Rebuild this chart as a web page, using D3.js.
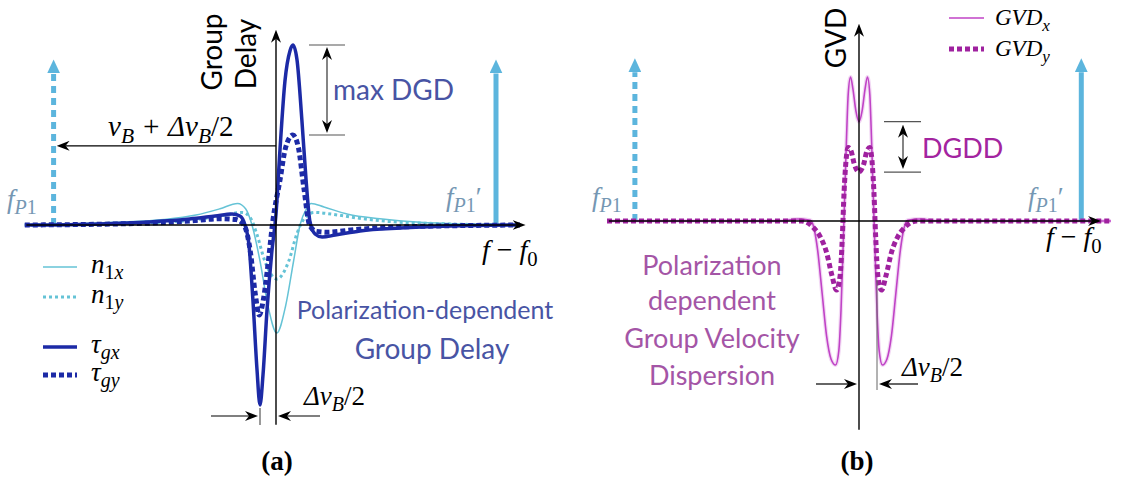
<!DOCTYPE html>
<html>
<head>
<meta charset="utf-8">
<script src="https://cdn.jsdelivr.net/npm/d3@7/dist/d3.min.js"></script>
<style>
  body { margin: 0; background: #fff; }
  svg { display: block; }
</style>
</head>
<body>
<div id="canvas"></div>
<script>
/* Data: x = f - f0 in units of Δν_B/2, y = normalised amplitude */
const N1X = [[-15.7, 0], [-10, 0.015], [-7, 0.03], [-5, 0.055], [-3.5, 0.09], [-2.4, 0.12], [-1.9, 0.09], [-1.5, 0], [-1.0, -0.2], [-0.5, -0.45], [0.05, -0.6], [0.6, -0.45], [1.1, -0.2], [1.5, 0], [1.9, 0.09], [2.2, 0.12], [3.0, 0.1], [4.5, 0.06], [6.5, 0.035], [9, 0.015], [12, 0.005], [15.25, 0]]
const N1Y = [[-15.7, 0], [-8, 0.012], [-5, 0.03], [-3.2, 0.055], [-2.1, 0.07], [-1.6, 0.04], [-1.2, -0.05], [-0.7, -0.2], [0.05, -0.3], [0.8, -0.2], [1.3, -0.05], [1.8, 0.04], [2.4, 0.07], [3.5, 0.06], [5, 0.04], [7, 0.02], [10, 0.008], [15.25, 0]]
const TAU_GX = [[-15.7, 0], [-11, 0.006], [-7.9, 0.017], [-5.4, 0.033], [-3.8, 0.05], [-2.75, 0.061], [-2.25, 0.05], [-1.94, 0], [-1.69, -0.11], [-1.44, -0.42], [-1.19, -0.8], [-1.0, -1.0], [-0.81, -0.83], [-0.56, -0.47], [-0.25, -0.14], [0, 0.06], [0.25, 0.42], [0.56, 0.8], [0.88, 0.97], [1.06, 1.0], [1.31, 0.92], [1.62, 0.58], [1.88, 0.25], [2.12, 0.02], [2.44, -0.05], [2.88, -0.067], [3.7, -0.056], [5.25, -0.033], [7.75, -0.017], [10.9, -0.006], [15.25, 0]]
const TAU_GY = [[-15.7, 0], [-8, 0.01], [-5, 0.025], [-3.5, 0.035], [-2.5, 0.03], [-2.0, 0], [-1.6, -0.15], [-1.3, -0.38], [-1.05, -0.5], [-0.8, -0.42], [-0.5, -0.22], [-0.2, 0.02], [0.25, 0.25], [0.6, 0.43], [1.05, 0.5], [1.4, 0.43], [1.75, 0.2], [2.1, 0], [2.5, -0.035], [3.2, -0.04], [5, -0.025], [8, -0.01], [15.25, 0]]
const GVD_X = [[-14, 0], [-4.4, 0], [-3.4, 0.014], [-2.7, 0.005], [-2.5, -0.05], [-2.3, -0.2], [-2.05, -0.5], [-1.8, -0.8], [-1.55, -0.96], [-1.3, -1.0], [-1.12, -0.9], [-1.0, -0.62], [-0.9, -0.25], [-0.8, 0.15], [-0.7, 0.55], [-0.6, 0.88], [-0.47, 1.0], [-0.34, 0.92], [-0.18, 0.77], [0, 0.69], [0.18, 0.77], [0.34, 0.92], [0.47, 1.0], [0.6, 0.88], [0.7, 0.55], [0.8, 0.15], [0.9, -0.25], [1.0, -0.62], [1.12, -0.9], [1.3, -1.0], [1.55, -0.96], [1.8, -0.8], [2.05, -0.5], [2.3, -0.2], [2.5, -0.05], [2.7, 0.005], [3.4, 0.014], [4.4, 0], [14, 0]]
const GVD_Y = [[-14, 0], [-3.2, 0], [-2.5, -0.05], [-2.15, -0.11], [-1.8, -0.22], [-1.5, -0.38], [-1.25, -0.48], [-1.05, -0.38], [-0.93, -0.12], [-0.83, 0.2], [-0.72, 0.42], [-0.6, 0.51], [-0.45, 0.49], [-0.25, 0.39], [0, 0.34], [0.25, 0.39], [0.45, 0.49], [0.6, 0.51], [0.72, 0.42], [0.83, 0.2], [0.93, -0.12], [1.05, -0.38], [1.25, -0.48], [1.5, -0.38], [1.8, -0.22], [2.15, -0.11], [2.5, -0.05], [3.2, 0], [14, 0]]
/* pump positions (same units) and heights */
const PUMP_A = [-13.9, 13.75]
const PUMP_B = [-12.45, 12.35]
const PUMP_H_A = 0.92
const PUMP_H_B = 1.13
const HALF_BW = 1   // Δν_B/2 marker position
const NU_LEVEL = 0.44 // height of the ν_B + Δν_B/2 arrow
const LEGEND_A = ["n1x", "n1y", "tgx", "tgy"]
const LEGEND_B = ["gx", "gy"]

/* Layout and style constants */
const WIDTH = 1134
const HEIGHT = 480
const SANS = "Lato, 'Open Sans', sans-serif"
const MATH = "'Liberation Serif', 'DejaVu Serif', serif"
const COLORS = {"NAVY": "#1c2aa6", "LIGHT": "#65c3d6", "PUMP": "#5cb5dd", "FP": "#7597b3",
                "TEXT_A": "#4854a4", "TEXT_B": "#a455a6", "DGDD": "#a3249f", "GX": "#c043c6", "GY": "#9f219f"}

const svg = d3.select("#canvas").append("svg").attr("width", WIDTH).attr("height", HEIGHT)
const defs = svg.append("defs")

/* arrowheads: returns how far the line must stop before the tip */
const makeHead = (id, w, h, notch, color) => {
  defs.append("marker").attr("id", id)
      .attr("viewBox", `0 0 ${w} ${h}`).attr("refX", notch).attr("refY", h / 2)
      .attr("markerWidth", w).attr("markerHeight", h)
      .attr("markerUnits", "userSpaceOnUse").attr("orient", "auto-start-reverse")
      .append("path").attr("d", `M0,0 L${w},${h / 2} L0,${h} L${notch},${h / 2} Z`).attr("fill", color)
  return w - notch
}
const BACK_K = makeHead("headK", 13, 10, 4, "#000")
const BACK_B = makeHead("headB", 14, 13, 0, COLORS.PUMP)

const arrow = (g, x1, y1, x2, y2, both) => {
  const len = Math.hypot(x2 - x1, y2 - y1), ux = (x2 - x1) / len, uy = (y2 - y1) / len
  const s = both ? BACK_K : 0
  const l = g.append("line")
             .attr("x1", x1 + ux * s).attr("y1", y1 + uy * s)
             .attr("x2", x2 - ux * BACK_K).attr("y2", y2 - uy * BACK_K)
             .attr("stroke", "#333").attr("stroke-width", 1.2)
             .attr("marker-end", "url(#headK)")
  if (both) l.attr("marker-start", "url(#headK)")
  return l
}

/* text with italic / roman pieces and subscripts: kind = i, r, si, sr */
const math = (g, x, y, parts, size, color, anchor) => {
  const t = g.append("text").attr("x", x).attr("y", y)
             .attr("font-family", MATH).attr("font-size", size).attr("fill", color)
             .attr("text-anchor", anchor || "start")
  let shift = 0
  parts.forEach(([s, kind]) => {
    const sub = kind[0] === "s"
    const target = sub ? size * 0.24 : 0
    t.append("tspan").attr("dy", target - shift)
     .attr("font-size", sub ? size * 0.74 : size)
     .attr("font-style", kind.endsWith("i") ? "italic" : "normal")
     .text(s)
    shift = target
  })
  return t
}
const label = (g, x, y, txt, size, color, anchor) =>
  g.append("text").attr("x", x).attr("y", y).attr("font-family", SANS)
   .attr("font-size", size).attr("fill", color).attr("text-anchor", anchor || "start").text(txt)

const pumpArrow = (g, x, y0, y1, dashed) => {
  g.append("line").attr("x1", x).attr("x2", x).attr("y1", y0).attr("y2", y1 + BACK_B)
   .attr("stroke", COLORS.PUMP).attr("stroke-width", 5)
   .attr("stroke-dasharray", dashed ? "7,5" : null)
   .attr("marker-end", "url(#headB)")
}

/* ---------------- Panel (a) ---------------- */
const xA = d3.scaleLinear().domain([-16, 16]).range([20, 532])
const yA = d3.scaleLinear().domain([-1, 1]).range([405, 45])
const lineA = d3.line().x((d) => xA(d[0])).y((d) => yA(d[1])).curve(d3.curveMonotoneX)
const gA = svg.append("g")

pumpArrow(gA, xA(PUMP_A[0]), yA(0), yA(PUMP_H_A), true)
pumpArrow(gA, xA(PUMP_A[1]), yA(0), yA(PUMP_H_A), false)

const STYLE_A = {
  "n1x": {"data": N1X, "color": COLORS.LIGHT, "width": 1.5, "dash": null},
  "n1y": {"data": N1Y, "color": COLORS.LIGHT, "width": 3, "dash": "3,3"},
  "tgx": {"data": TAU_GX, "color": COLORS.NAVY, "width": 3.5, "dash": null},
  "tgy": {"data": TAU_GY, "color": COLORS.NAVY, "width": 5, "dash": "5,3"}
}
LEGEND_A.forEach((k) => {
  gA.append("path").attr("d", lineA(STYLE_A[k].data)).attr("fill", "none")
    .attr("stroke", STYLE_A[k].color).attr("stroke-width", STYLE_A[k].width)
    .attr("stroke-dasharray", STYLE_A[k].dash)
})

// axes
arrow(gA, xA(-15.6), yA(0), xA(15.6), yA(0)).attr("stroke", "#000").attr("stroke-width", 1.4)
arrow(gA, xA(0), yA(-1.11), xA(0), yA(1.085)).attr("stroke", "#000").attr("stroke-width", 1.4)

// group delay label
gA.append("text").attr("transform", "translate(222,52) rotate(-90)").attr("text-anchor", "middle")
  .attr("font-family", SANS).attr("font-size", 28).text("Group")
gA.append("text").attr("transform", "translate(256,54) rotate(-90)").attr("text-anchor", "middle")
  .attr("font-family", SANS).attr("font-size", 28).text("Delay")

// max DGD bracket
const maxGx = d3.max(TAU_GX, (d) => d[1]), maxGy = d3.max(TAU_GY, (d) => d[1])
;[maxGx, maxGy].forEach((v) => gA.append("line").attr("x1", 309).attr("x2", 345)
  .attr("y1", yA(v)).attr("y2", yA(v)).attr("stroke", "#555").attr("stroke-width", 1.2))
arrow(gA, 327, yA(maxGx) + 2, 327, yA(maxGy) - 2, true)
label(gA, 333, 100, "max DGD", 28, COLORS.TEXT_A)

// ν_B + Δν_B/2 arrow
arrow(gA, xA(0), yA(NU_LEVEL), xA(PUMP_A[0]) + 3, yA(NU_LEVEL)).attr("stroke", "#000")
math(gA, 108, 136, [["ν", "i"], ["B", "si"], [" + Δν", "i"], ["B", "si"], ["/2", "r"]], 29, "#000")

// pump labels and axis name
math(gA, 7, 208, [["f", "i"], ["P", "si"], ["1", "sr"]], 27, COLORS.FP)
math(gA, 446, 206, [["f", "i"], ["P", "si"], ["1", "sr"], ["′", "r"]], 27, COLORS.FP)
math(gA, 482, 259, [["f", "i"], [" − ", "r"], ["f", "i"], ["0", "sr"]], 28, "#000")

// legend
const LEGEND_TEXT_A = {"n1x": [["n", "i"], ["1", "sr"], ["x", "si"]], "n1y": [["n", "i"], ["1", "sr"], ["y", "si"]],
                       "tgx": [["τ", "i"], ["gx", "si"]], "tgy": [["τ", "i"], ["gy", "si"]]}
const LEGEND_Y_A = [267, 297, 347, 375]
LEGEND_A.forEach((k, i) => {
  gA.append("line").attr("x1", 43).attr("x2", 77).attr("y1", LEGEND_Y_A[i]).attr("y2", LEGEND_Y_A[i])
    .attr("stroke", STYLE_A[k].color).attr("stroke-width", STYLE_A[k].width).attr("stroke-dasharray", STYLE_A[k].dash)
  math(gA, 91, LEGEND_Y_A[i] + 6, LEGEND_TEXT_A[k], 27, "#000")
})

label(gA, 425, 319, "Polarization-dependent", 25, COLORS.TEXT_A, "middle")
label(gA, 432, 359, "Group Delay", 28, COLORS.TEXT_A, "middle")

// Δν_B/2 marker
gA.append("line").attr("x1", xA(-HALF_BW)).attr("x2", xA(-HALF_BW)).attr("y1", yA(-1) + 3).attr("y2", 425)
  .attr("stroke", "#555").attr("stroke-width", 1.2)
arrow(gA, 211, 416, xA(-HALF_BW) - 2, 416).attr("stroke", "#000")
arrow(gA, 320, 416, xA(0) + 2, 416).attr("stroke", "#000")
math(gA, 304, 405, [["Δν", "i"], ["B", "si"], ["/2", "r"]], 27, "#000")

gA.append("text").attr("x", 277).attr("y", 470).attr("text-anchor", "middle")
  .attr("font-family", MATH).attr("font-weight", "bold").attr("font-size", 27).text("(a)")

/* ---------------- Panel (b) ---------------- */
const xB = d3.scaleLinear().domain([-14, 14]).range([607, 1111])
const yB = d3.scaleLinear().domain([-1, 1]).range([365, 77])
const lineB = d3.line().x((d) => xB(d[0])).y((d) => yB(d[1])).curve(d3.curveMonotoneX)
const gB = svg.append("g")

pumpArrow(gB, xB(PUMP_B[0]), yB(0), yB(PUMP_H_B), true)
pumpArrow(gB, xB(PUMP_B[1]), yB(0), yB(PUMP_H_B), false)

const STYLE_B = {
  "gx": {"data": GVD_X, "color": COLORS.GX, "width": 1.6, "dash": null},
  "gy": {"data": GVD_Y, "color": COLORS.GY, "width": 5, "dash": "5,3"}
}
gB.append("path").attr("d", lineB(GVD_X)).attr("fill", "none")
  .attr("stroke", COLORS.GX).attr("stroke-width", 4).attr("stroke-opacity", 0.2)
LEGEND_B.forEach((k) => {
  gB.append("path").attr("d", lineB(STYLE_B[k].data)).attr("fill", "none")
    .attr("stroke", STYLE_B[k].color).attr("stroke-width", STYLE_B[k].width)
    .attr("stroke-dasharray", STYLE_B[k].dash)
})

arrow(gB, xB(-13.9), yB(0), xB(13.45), yB(0)).attr("stroke", "#000").attr("stroke-width", 1.4)
arrow(gB, xB(0), yB(-1.45), xB(0), yB(1.37)).attr("stroke", "#000").attr("stroke-width", 1.4)

gB.append("text").attr("transform", "translate(846,38) rotate(-90)").attr("text-anchor", "middle")
  .attr("font-family", SANS).attr("font-size", 28).text("GVD")

// legend
const LEGEND_TEXT_B = {"gx": [["GVD", "i"], ["x", "si"]], "gy": [["GVD", "i"], ["y", "si"]]}
const LEGEND_Y_B = [18, 49]
LEGEND_B.forEach((k, i) => {
  gB.append("line").attr("x1", 949).attr("x2", 984).attr("y1", LEGEND_Y_B[i]).attr("y2", LEGEND_Y_B[i])
    .attr("stroke", STYLE_B[k].color).attr("stroke-width", STYLE_B[k].width).attr("stroke-dasharray", STYLE_B[k].dash)
  math(gB, 995, LEGEND_Y_B[i] + 7, LEGEND_TEXT_B[k], 23, "#000")
})

// DGDD bracket between the centre values
const midGx = GVD_X.find((d) => d[0] === 0)[1], midGy = GVD_Y.find((d) => d[0] === 0)[1]
;[midGx, midGy].forEach((v) => gB.append("line").attr("x1", 884).attr("x2", 921)
  .attr("y1", yB(v)).attr("y2", yB(v)).attr("stroke", "#555").attr("stroke-width", 1.2))
arrow(gB, 903, yB(midGx) + 3, 903, yB(midGy) - 3, true)
label(gB, 922, 158, "DGDD", 27, COLORS.DGDD)

math(gB, 592, 206, [["f", "i"], ["P", "si"], ["1", "sr"]], 27, COLORS.FP)
math(gB, 1028, 206, [["f", "i"], ["P", "si"], ["1", "sr"], ["′", "r"]], 27, COLORS.FP)
math(gB, 1046, 246, [["f", "i"], [" − ", "r"], ["f", "i"], ["0", "sr"]], 28, "#000")

const TEXT_B = ["Polarization", "dependent", "Group Velocity", "Dispersion"]
const TEXT_B_Y = [275, 310, 348, 385]
TEXT_B.forEach((s, i) => label(gB, 712, TEXT_B_Y[i], s, 27, COLORS.TEXT_B, "middle"))

gB.append("line").attr("x1", xB(HALF_BW)).attr("x2", xB(HALF_BW)).attr("y1", 280).attr("y2", 390)
  .attr("stroke", "#666").attr("stroke-width", 1)
arrow(gB, 816, 384, xB(0) - 2, 384).attr("stroke", "#000")
arrow(gB, 918, 384, xB(HALF_BW) + 2, 384).attr("stroke", "#000")
math(gB, 902, 376, [["Δν", "i"], ["B", "si"], ["/2", "r"]], 27, "#000")

gB.append("text").attr("x", 857).attr("y", 470).attr("text-anchor", "middle")
  .attr("font-family", MATH).attr("font-weight", "bold").attr("font-size", 27).text("(b)")
</script>
</body>
</html>
